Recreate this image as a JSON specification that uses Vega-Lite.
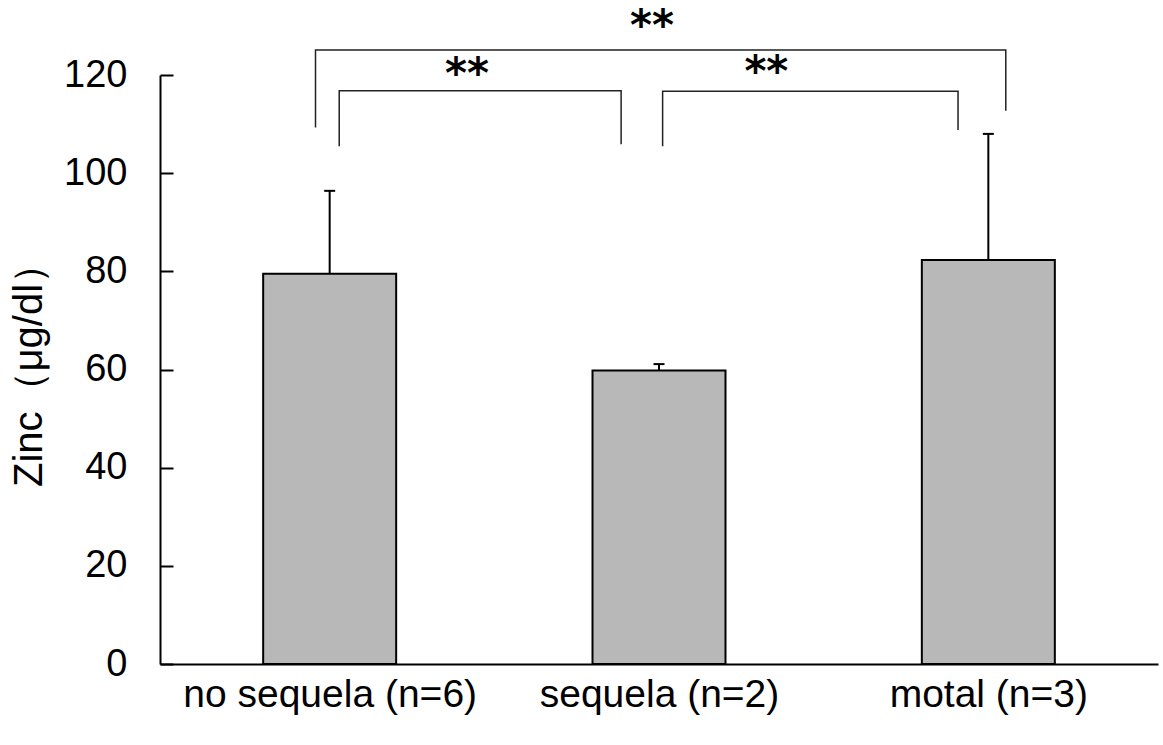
{
  "$schema": "https://vega.github.io/schema/vega-lite/v6.json",
  "width": 998,
  "height": 589,
  "autosize": {"type": "none"},
  "padding": {"left": 160, "top": 75, "right": 5, "bottom": 81},
  "background": "white",
  "config": {"view": {"stroke": null}, "font": "Liberation Sans"},
  "datasets": {
    "bars": [
      {"group": "no sequela (n=6)", "pos": 1, "mean": 79.5, "upper": 96.4},
      {"group": "sequela (n=2)", "pos": 2, "mean": 59.8, "upper": 61.1},
      {"group": "motal (n=3)", "pos": 3, "mean": 82.3, "upper": 108.0}
    ],
    "brackets": [
      {"b": "all", "o": 0, "x": 0.957, "y": 109.3},
      {"b": "all", "o": 1, "x": 0.957, "y": 125.1},
      {"b": "all", "o": 2, "x": 3.053, "y": 125.1},
      {"b": "all", "o": 3, "x": 3.053, "y": 112.7},
      {"b": "left", "o": 0, "x": 1.029, "y": 105.5},
      {"b": "left", "o": 1, "x": 1.029, "y": 116.8},
      {"b": "left", "o": 2, "x": 1.885, "y": 116.8},
      {"b": "left", "o": 3, "x": 1.885, "y": 105.9},
      {"b": "right", "o": 0, "x": 2.011, "y": 105.5},
      {"b": "right", "o": 1, "x": 2.011, "y": 116.7},
      {"b": "right", "o": 2, "x": 2.908, "y": 116.7},
      {"b": "right", "o": 3, "x": 2.908, "y": 108.8}
    ],
    "stars": [
      {"x": 1.979, "y": 131.4, "label": "**"},
      {"x": 1.417, "y": 121.7, "label": "**"},
      {"x": 2.326, "y": 122.0, "label": "**"}
    ]
  },
  "layer": [
    {
      "data": {"name": "bars"},
      "mark": {"type": "bar", "size": 133, "fill": "#b8b8b8", "stroke": "black", "strokeWidth": 2},
      "encoding": {
        "x": {
          "field": "pos", "type": "quantitative",
          "scale": {"domain": [0.5, 3.5], "nice": false, "zero": false},
          "axis": {
            "title": null, "values": [1, 2, 3], "grid": false, "ticks": false,
            "labelExpr": "datum.value == 1 ? 'no sequela (n=6)' : datum.value == 2 ? 'sequela (n=2)' : 'motal (n=3)'",
            "labelFontSize": 39, "labelColor": "black", "labelPadding": 11, "labelLimit": 0,
            "labelOverlap": false,
            "domainColor": "black", "domainWidth": 2
          }
        },
        "y": {
          "field": "mean", "type": "quantitative",
          "scale": {"domain": [0, 120], "nice": false},
          "axis": {
            "title": "Zinc（μg/dl）", "titleFontSize": 40, "titleFontWeight": "normal", "titleColor": "black",
            "titleAngle": -90, "titleX": -131, "titleY": 290, "titleAlign": "center", "titleBaseline": "middle",
            "values": [0, 20, 40, 60, 80, 100, 120], "grid": false,
            "tickSize": -13, "tickWidth": 2, "tickColor": "black",
            "labelFontSize": 38, "labelColor": "black", "labelPadding": 46,
            "domainColor": "black", "domainWidth": 2
          }
        }
      }
    },
    {
      "data": {"name": "bars"},
      "mark": {"type": "rule", "color": "black", "strokeWidth": 2},
      "encoding": {
        "x": {"field": "pos", "type": "quantitative"},
        "y": {"field": "mean", "type": "quantitative"},
        "y2": {"field": "upper"}
      }
    },
    {
      "data": {"name": "bars"},
      "mark": {"type": "tick", "orient": "horizontal", "size": 11, "thickness": 2, "color": "black", "opacity": 1},
      "encoding": {
        "x": {"field": "pos", "type": "quantitative"},
        "y": {"field": "upper", "type": "quantitative"}
      }
    },
    {
      "data": {"name": "brackets"},
      "mark": {"type": "line", "color": "#222222", "strokeWidth": 1.5},
      "encoding": {
        "x": {"field": "x", "type": "quantitative"},
        "y": {"field": "y", "type": "quantitative"},
        "detail": {"field": "b"},
        "order": {"field": "o", "type": "quantitative"}
      }
    },
    {
      "data": {"name": "stars"},
      "mark": {"type": "text", "font": "DejaVu Sans", "fontWeight": "bold", "fontSize": 42, "baseline": "middle", "align": "center", "color": "black", "dy": 8},
      "encoding": {
        "x": {"field": "x", "type": "quantitative"},
        "y": {"field": "y", "type": "quantitative"},
        "text": {"field": "label"}
      }
    }
  ]
}
